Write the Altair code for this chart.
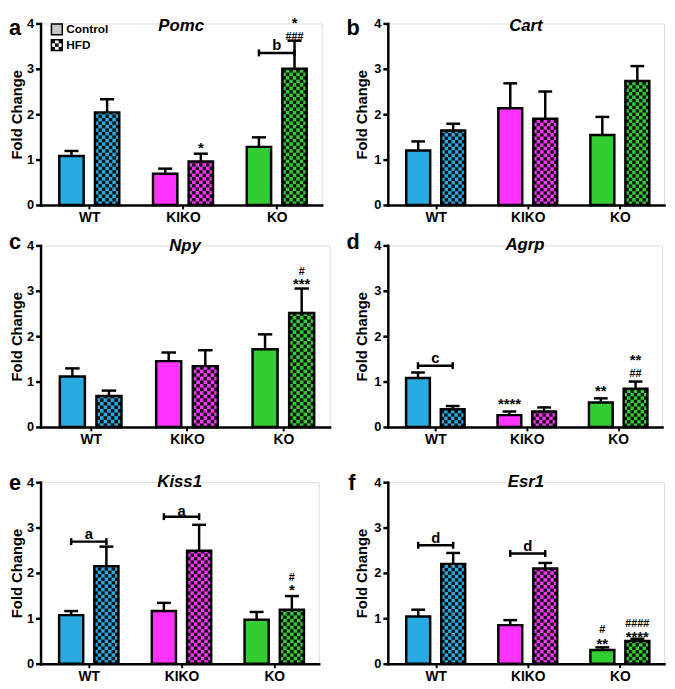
import math
import altair as alt
import pandas as pd

# ---------------- data ----------------
groups = ["WT", "KIKO", "KO"]
conditions = ["Control", "HFD"]
genes = ["Pomc", "Cart", "Npy", "Agrp", "Kiss1", "Esr1"]
panel_letters = ["a", "b", "c", "d", "e", "f"]
group_colors = ["#29ABE2", "#FF33FF", "#33CC33"]
y_ticks = [0, 1, 2, 3, 4]

control_mean = {
    "Pomc": [1.08, 0.69, 1.28],
    "Cart": [1.20, 2.13, 1.54],
    "Npy": [1.11, 1.45, 1.71],
    "Agrp": [1.08, 0.26, 0.54],
    "Kiss1": [1.07, 1.16, 0.97],
    "Esr1": [1.04, 0.85, 0.30],
}
control_sem = {
    "Pomc": [0.11, 0.11, 0.21],
    "Cart": [0.20, 0.55, 0.40],
    "Npy": [0.18, 0.19, 0.33],
    "Agrp": [0.12, 0.08, 0.09],
    "Kiss1": [0.09, 0.18, 0.17],
    "Esr1": [0.15, 0.11, 0.06],
}
hfd_mean = {
    "Pomc": [2.04, 0.96, 3.00],
    "Cart": [1.64, 1.90, 2.73],
    "Npy": [0.68, 1.34, 2.51],
    "Agrp": [0.39, 0.34, 0.84],
    "Kiss1": [2.15, 2.49, 1.19],
    "Esr1": [2.20, 2.10, 0.50],
}
hfd_sem = {
    "Pomc": [0.29, 0.17, 0.62],
    "Cart": [0.15, 0.60, 0.33],
    "Npy": [0.12, 0.35, 0.54],
    "Agrp": [0.07, 0.09, 0.16],
    "Kiss1": [0.43, 0.57, 0.30],
    "Esr1": [0.24, 0.12, 0.05],
}
# significance symbols: (group, condition, symbol, y of glyph centre)
sig_marks = {
    "Pomc": [("KIKO", "HFD", "*", 1.31), ("KO", "HFD", "###", 3.72), ("KO", "HFD", "*", 3.98)],
    "Cart": [],
    "Npy": [("KO", "HFD", "***", 3.21), ("KO", "HFD", "#", 3.43)],
    "Agrp": [("KIKO", "Control", "****", 0.56), ("KO", "Control", "**", 0.86),
             ("KO", "HFD", "##", 1.18), ("KO", "HFD", "**", 1.45)],
    "Kiss1": [("KO", "HFD", "*", 1.69), ("KO", "HFD", "#", 1.90)],
    "Esr1": [("KO", "Control", "**", 0.50), ("KO", "Control", "#", 0.77),
             ("KO", "HFD", "****", 0.65), ("KO", "HFD", "####", 0.90)],
}
# brackets between Control and HFD of one genotype: (group, y, letter, letter y)
brackets = {
    "Pomc": [("KO", 3.35, "b", 3.53)],
    "Cart": [],
    "Npy": [],
    "Agrp": [("WT", 1.35, "c", 1.52)],
    "Kiss1": [("WT", 2.69, "a", 2.86), ("KIKO", 3.24, "a", 3.36)],
    "Esr1": [("WT", 2.61, "d", 2.77), ("KIKO", 2.43, "d", 2.59)],
}

# ---------------- layout (pixels) ----------------
panel_geom = {
    "Pomc": dict(w=285, h=184, L=32, R=10, T=10, B=21, lx=-32, ly=12, ty=3, tx=-24),
    "Cart": dict(w=280, h=184, L=55, R=2, T=10, B=21, lx=-42, ly=12, ty=3, tx=-27),
    "Npy": dict(w=293, h=184, L=32, R=2, T=18, B=35, lx=-32, ly=4, ty=1, tx=-24),
    "Agrp": dict(w=278, h=184, L=55, R=4, T=18, B=35, lx=-42, ly=4, ty=0, tx=-27),
    "Kiss1": dict(w=282, h=184, L=32, R=13, T=19, B=20, lx=-32, ly=8, ty=0, tx=-24),
    "Esr1": dict(w=280, h=184, L=55, R=2, T=19, B=20, lx=-40, ly=8, ty=0, tx=-27),
}
FONT = "Liberation Sans"
XDOM = [-0.02, 2.98]
OFFSET = 0.19
HALF = 0.13
CAP = 0.075
NCOL = 7
LW = 2.5
STAR_FS = 15
HASH_FS = 11


def is_star(sym):
    return sym.startswith("*")


def sym_fs(sym):
    return STAR_FS if is_star(sym) else HASH_FS


def glyph_centre(sym):
    # height of the glyph centre above the baseline, in ems
    return 0.56 if is_star(sym) else 0.35


def panel(idx, gene):
    g = panel_geom[gene]
    w, h = g["w"], g["h"]
    span = XDOM[1] - XDOM[0]
    ux = span / w          # x units per pixel
    uy = 4.0 / h           # y units per pixel
    xs = alt.Scale(domain=XDOM, nice=False, zero=False)
    ys = alt.Scale(domain=[0, 4], nice=False, zero=False)

    label_expr = " : ".join(
        f"datum.value < {i + 1} ? '{grp}'" for i, grp in enumerate(groups[:-1])
    ) + f" : '{groups[-1]}'"
    xaxis = alt.Axis(
        title=None, values=[i + 0.5 for i in range(len(groups))], labelExpr=label_expr,
        grid=False, tickSize=4, tickWidth=2, tickColor="black", domainColor="black",
        domainWidth=LW, domainCap="square", labelFont=FONT, labelFontSize=14,
        labelFontWeight="bold", labelColor="black", labelPadding=2,
    )
    yaxis = alt.Axis(
        title="Fold Change", values=y_ticks, format="d", grid=False, tickSize=5,
        tickWidth=LW, tickColor="black", domainColor="black", domainWidth=LW,
        domainCap="square", labelFont=FONT, labelFontSize=13, labelFontWeight="bold",
        labelColor="black", labelPadding=2, titleFont=FONT, titleFontSize=15,
        titleFontWeight="bold", titleColor="black", titleAngle=270, titleX=g["tx"],
        titleY=h / 2, titleAlign="center", titleBaseline="middle",
    )

    rows = []
    for gi, grp in enumerate(groups):
        for cond, mean, sem, off in (
            ("Control", control_mean[gene][gi], control_sem[gene][gi], -OFFSET),
            ("HFD", hfd_mean[gene][gi], hfd_sem[gene][gi], OFFSET),
        ):
            c = gi + 0.5 + off
            rows.append(dict(group=grp, cond=cond, xc=c, x0=c - HALF, x1=c + HALF,
                             base=0.0, mean=mean, top=mean + sem,
                             cap0=c - CAP, cap1=c + CAP))
    bars = pd.DataFrame(rows)

    # checker cells for HFD bars
    cw = 2 * HALF / NCOL
    ch = cw / ux * uy
    cells = []
    for r in rows:
        if r["cond"] != "HFD":
            continue
        n = math.ceil(r["mean"] / ch)
        for ri in range(n):
            y0 = ri * ch
            y1 = min((ri + 1) * ch, r["mean"])
            for ci in range(NCOL):
                if (ri + ci) % 2 == 0:
                    cells.append(dict(x0=r["x0"] + ci * cw, x1=r["x0"] + (ci + 1) * cw, y0=y0, y1=y1))
    cells = pd.DataFrame(cells)

    layers = []
    # invisible box fixing the panel's extent
    layers.append(
        alt.Chart(pd.DataFrame({"k": [0]})).mark_rect(opacity=0).encode(
            x=alt.value(-g["L"]), x2=alt.value(w + g["R"]),
            y=alt.value(-g["T"]), y2=alt.value(h + g["B"]))
    )
    layers.append(
        alt.Chart(bars).mark_rect().encode(
            x=alt.X("x0:Q", scale=xs, axis=xaxis), x2="x1:Q",
            y=alt.Y("mean:Q", scale=ys, axis=yaxis), y2="base:Q",
            color=alt.Color("group:N", scale=alt.Scale(domain=groups, range=group_colors), legend=None),
        )
    )
    layers.append(
        alt.Chart(cells).mark_rect(color="#111111").encode(
            x=alt.X("x0:Q", scale=xs), x2="x1:Q", y=alt.Y("y0:Q", scale=ys), y2="y1:Q")
    )
    layers.append(
        alt.Chart(bars).mark_rect(fillOpacity=0, stroke="black", strokeWidth=LW).encode(
            x=alt.X("x0:Q", scale=xs), x2="x1:Q", y=alt.Y("mean:Q", scale=ys), y2="base:Q")
    )
    layers.append(
        alt.Chart(bars).mark_rule(color="black", strokeWidth=LW).encode(
            x=alt.X("xc:Q", scale=xs), y=alt.Y("mean:Q", scale=ys), y2="top:Q")
    )
    layers.append(
        alt.Chart(bars).mark_rule(color="black", strokeWidth=LW).encode(
            x=alt.X("cap0:Q", scale=xs), x2="cap1:Q", y=alt.Y("top:Q", scale=ys))
    )

    # significance symbols; symbols stacked over one bar are spaced so that
    # their text boxes do not overlap
    stacks = {}
    order = []
    for grp, cond, sym, yv in sig_marks[gene]:
        key = (grp, cond)
        if key not in stacks:
            stacks[key] = []
            order.append(key)
        stacks[key].append((sym, yv))
    placed = []
    for key in order:
        grp, cond = key
        c = groups.index(grp) + 0.5 + (-OFFSET if cond == "Control" else OFFSET)
        prev = None
        for sym, yv in sorted(stacks[key], key=lambda t: t[1]):
            if prev is not None:
                psym, pyv = prev
                u, lo = sym_fs(sym), sym_fs(psym)
                need = (glyph_centre(sym) * u + 0.22 * u
                        - glyph_centre(psym) * lo + 0.78 * lo + 0.3)
                yv = max(yv, pyv + need * uy)
            placed.append(dict(x=c, y=yv, s=sym, star=is_star(sym)))
            prev = (sym, yv)
    if placed:
        pdf = pd.DataFrame(placed)
        for star_kind, fs in ((True, STAR_FS), (False, HASH_FS)):
            sub = pdf[pdf["star"] == star_kind]
            if len(sub):
                layers.append(
                    alt.Chart(sub[["x", "y", "s"]]).mark_text(
                        font=FONT, fontSize=fs, fontWeight="bold", color="black",
                        baseline="alphabetic",
                        dy=round((0.56 if star_kind else 0.35) * fs)).encode(
                        x=alt.X("x:Q", scale=xs), y=alt.Y("y:Q", scale=ys), text="s:N")
                )

    # brackets
    if brackets[gene]:
        br = []
        for grp, yv, lab, ly in brackets[gene]:
            gi = groups.index(grp)
            xa, xb = gi + 0.5 - OFFSET, gi + 0.5 + OFFSET
            br.append(dict(xa=xa, xb=xb, xm=(xa + xb) / 2, y=yv, ylo=yv - 3.5 * uy,
                           yhi=yv + 3.5 * uy, lab=lab, ly=ly))
        br = pd.DataFrame(br)
        layers.append(
            alt.Chart(br).mark_rule(color="black", strokeWidth=LW).encode(
                x=alt.X("xa:Q", scale=xs), x2="xb:Q", y=alt.Y("y:Q", scale=ys))
        )
        layers.append(
            alt.Chart(br).mark_rule(color="black", strokeWidth=LW).encode(
                x=alt.X("xa:Q", scale=xs), y=alt.Y("ylo:Q", scale=ys), y2="yhi:Q")
        )
        layers.append(
            alt.Chart(br).mark_rule(color="black", strokeWidth=LW).encode(
                x=alt.X("xb:Q", scale=xs), y=alt.Y("ylo:Q", scale=ys), y2="yhi:Q")
        )
        layers.append(
            alt.Chart(br).mark_text(font=FONT, fontSize=15, fontWeight="bold", color="black",
                                    baseline="alphabetic", dy=5).encode(
                x=alt.X("xm:Q", scale=xs), y=alt.Y("ly:Q", scale=ys), text="lab:N")
        )

    # title and panel letter
    layers.append(
        alt.Chart(pd.DataFrame({"t": [gene]})).mark_text(
            font=FONT, fontSize=17, fontWeight="bold", fontStyle="italic", color="black",
            align="center", baseline="middle").encode(
            x=alt.value(w / 2), y=alt.value(g["ty"]), text="t:N")
    )
    layers.append(
        alt.Chart(pd.DataFrame({"t": [panel_letters[idx]]})).mark_text(
            font=FONT, fontSize=22, fontWeight="bold", color="black",
            align="left", baseline="alphabetic").encode(
            x=alt.value(g["lx"]), y=alt.value(g["ly"]), text="t:N")
    )

    # legend (first panel only)
    if idx == 0:
        box_px = 11
        lx0, lx1 = 11, 11 + box_px
        centers = [6, 22]
        lg = []
        for cond, cy in zip(conditions, centers):
            lg.append(dict(label=cond, x0=XDOM[0] + lx0 * ux, x1=XDOM[0] + lx1 * ux,
                           y0=4 - (cy - box_px / 2) * uy, y1=4 - (cy + box_px / 2) * uy,
                           fill="#C8C8C8" if cond == "Control" else "#FFFFFF",
                           tx=XDOM[0] + 26 * ux, ty=4 - cy * uy))
        lg = pd.DataFrame(lg)
        lcells = []
        cp = box_px / 3
        cy = centers[1] - box_px / 2
        for ri in range(3):
            for ci in range(3):
                if (ri + ci) % 2 == 0:
                    lcells.append(dict(x0=XDOM[0] + (lx0 + ci * cp) * ux,
                                       x1=XDOM[0] + (lx0 + (ci + 1) * cp) * ux,
                                       y0=4 - (cy + ri * cp) * uy,
                                       y1=4 - (cy + (ri + 1) * cp) * uy))
        lcells = pd.DataFrame(lcells)
        layers.append(
            alt.Chart(lg).mark_rect().encode(
                x=alt.X("x0:Q", scale=xs), x2="x1:Q", y=alt.Y("y0:Q", scale=ys), y2="y1:Q",
                fill=alt.Fill("fill:N", scale=None))
        )
        layers.append(
            alt.Chart(lcells).mark_rect(color="#111111").encode(
                x=alt.X("x0:Q", scale=xs), x2="x1:Q", y=alt.Y("y0:Q", scale=ys), y2="y1:Q")
        )
        layers.append(
            alt.Chart(lg).mark_rect(fillOpacity=0, stroke="black", strokeWidth=1.5).encode(
                x=alt.X("x0:Q", scale=xs), x2="x1:Q", y=alt.Y("y0:Q", scale=ys), y2="y1:Q")
        )
        layers.append(
            alt.Chart(lg).mark_text(font=FONT, fontSize=12, fontWeight="bold", color="black",
                                    align="left", baseline="middle").encode(
                x=alt.X("tx:Q", scale=xs), y=alt.Y("ty:Q", scale=ys), text="label:N")
        )

    return alt.layer(*layers).properties(width=w, height=h)


panels = [panel(i, gname) for i, gname in enumerate(genes)]
chart = alt.vconcat(
    alt.hconcat(panels[0], panels[1], spacing=0),
    alt.hconcat(panels[2], panels[3], spacing=0),
    alt.hconcat(panels[4], panels[5], spacing=0),
    spacing=0,
    padding=0,
).configure_view(strokeOpacity=0).configure(font=FONT)

chart.save("out.html", embed_options={"renderer": "svg", "actions": False})
